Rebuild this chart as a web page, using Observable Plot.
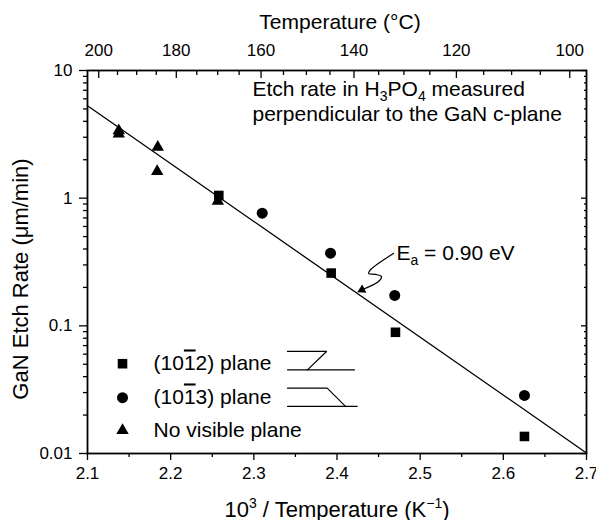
<!DOCTYPE html>
<html><head><meta charset="utf-8">
<script src="https://cdn.jsdelivr.net/npm/d3@7"></script>
<script src="https://cdn.jsdelivr.net/npm/@observablehq/plot@0.6"></script>
<style>body{margin:0;background:#fff} #chart svg{display:block}</style>
</head><body><div id="chart"></div>
<script>
// ---- axis ticks ----
const xTicks = [2.1, 2.2, 2.3, 2.4, 2.5, 2.6, 2.7];
const xMinorTicks = [2.15, 2.25, 2.35, 2.45, 2.55, 2.65];
const yTicks = [0.01, 0.1, 1, 10];
const yMinorTicks = [0.02,0.03,0.04,0.05,0.06,0.07,0.08,0.09,0.2,0.3,0.4,0.5,0.6,0.7,0.8,0.9,2,3,4,5,6,7,8,9];
const tempTicks = [200, 180, 160, 140, 120, 100];
const tempMinorTicks = [195,190,185,175,170,165,155,150,145,135,130,125,115,110,105];

// ---- data (1000/T in K^-1, etch rate in um/min) ----
const squareX = [2.2579, 2.3930, 2.4703, 2.6254];
const squareY = [1.05, 0.259, 0.089, 0.0136];
const circleX = [2.3101, 2.3922, 2.4694, 2.6254];
const circleY = [0.763, 0.371, 0.173, 0.0285];
const triangleX = [2.1376, 2.1376, 2.1845, 2.1838, 2.2567];
const triangleY = [3.38, 3.18, 2.51, 1.62, 0.947];
const fitX = [2.1, 2.7];
const fitY = [5.3, 0.0101];

// legend / annotation anchors (data coordinates)
const legendLabels = ["§SQ§", "§CI§", "No visible plane"];
const legendSymX = 2.1421;
const legendSymY = [0.0505, 0.02735, 0.01517];
const legendTextX = 2.1794;
const diagramX = [2.3405, 2.3874, 2.3645, 2.3405, 2.4210, 2.3405, 2.3882, 2.4102, 2.3405, 2.4243];
const diagramY = [0.0630, 0.0630, 0.0452, 0.0452, 0.0452, 0.0325, 0.0325, 0.0234, 0.0234, 0.0234];
const diagramZ = ["a","a","a","b","b","c","c","c","d","d"];
const squiggleX = [2.4679, 2.4403, 2.4379, 2.4463, 2.4535, 2.4499, 2.4307];
const squiggleY = [0.369, 0.275, 0.2572, 0.2527, 0.2436, 0.2227, 0.1928];

const toInv = t => 1000 / (t + 273.15);
const pts = (xs, ys) => xs.map((x, i) => ({x, y: ys[i]}));

const font = "'Liberation Sans', Arial, Helvetica, sans-serif";

const chart = Plot.plot({
  width: 596, height: 520,
  marginLeft: 87, marginRight: 10, marginTop: 70, marginBottom: 67,
  style: {fontFamily: font, fontSize: "17px", color: "black", background: "white"},
  x: {domain: [2.1, 2.7]},
  y: {type: "log", domain: [0.01, 10]},
  marks: [
    // axes
    Plot.axisX({anchor: "bottom", ticks: xTicks, tickSize: 7, tickPadding: 6, tickFormat: d => d.toFixed(1), label: null, strokeWidth: 1.3}),
    Plot.axisX({anchor: "bottom", ticks: xMinorTicks, tickSize: 4, tickFormat: () => "", label: null, strokeWidth: 1.3}),
    Plot.axisX({anchor: "top", ticks: tempTicks.map(toInv), tickSize: -7, tickFormat: () => "", label: null, strokeWidth: 1.3}),
    Plot.axisX({anchor: "top", ticks: tempMinorTicks.map(toInv), tickSize: -4, tickFormat: () => "", label: null, strokeWidth: 1.3}),
    Plot.axisX({anchor: "top", ticks: tempTicks.map(toInv), tickSize: 0, tickPadding: 15, tickFormat: d => String(Math.round(1000 / d - 273.15)), label: null}),
    Plot.axisY({anchor: "left", ticks: yTicks, tickSize: 8, tickPadding: 7, tickFormat: d => String(d), label: null, strokeWidth: 1.3}),
    Plot.axisY({anchor: "left", ticks: yMinorTicks, tickSize: 4, tickFormat: () => "", label: null, strokeWidth: 1.3}),
    Plot.axisY({anchor: "right", ticks: yTicks, tickSize: -6, tickFormat: () => "", label: null, strokeWidth: 1.3}),
    Plot.axisY({anchor: "right", ticks: yMinorTicks, tickSize: -3, tickFormat: () => "", label: null, strokeWidth: 1.3}),
    Plot.frame({strokeWidth: 1.8}),
    // titles
    Plot.text(["Temperature (°C)"], {frameAnchor: "top", dy: -42, dx: 3, lineAnchor: "bottom", textAnchor: "middle", fontSize: 21}),
    Plot.text(["§XT§"], {frameAnchor: "bottom", dy: 63, lineAnchor: "bottom", textAnchor: "middle", fontSize: 22}),
    Plot.text(["GaN Etch Rate (μm/min)"], {frameAnchor: "left", dx: -60, dy: 17, rotate: -90, lineAnchor: "bottom", textAnchor: "middle", fontSize: 22}),
    // fit line
    Plot.line(pts(fitX, fitY), {x: "x", y: "y", stroke: "black", strokeWidth: 1.3}),
    // data
    Plot.dot(pts(squareX, squareY), {x: "x", y: "y", symbol: "square", r: 5.4, fill: "black"}),
    Plot.dot(pts(circleX, circleY), {x: "x", y: "y", symbol: "circle", r: 5.5, fill: "black"}),
    Plot.dot(pts(triangleX, triangleY), {x: "x", y: "y", symbol: "triangle", r: 4.6, fill: "black"}),
    // annotation text
    Plot.text(["§ET§"], {x: [2.2984], y: [10 ** (1 - (96 - 70) / 127.7)], text: d => d, textAnchor: "start", lineAnchor: "bottom", fontSize: 21}),
    Plot.text(["perpendicular to the GaN c-plane"], {x: [2.2984], y: [10 ** (1 - (121 - 70) / 127.7)], text: d => d, textAnchor: "start", lineAnchor: "bottom", fontSize: 21}),
    Plot.text(["§EA§"], {x: [2.4715], y: [0.328], text: d => d, textAnchor: "start", lineAnchor: "bottom", fontSize: 21}),
    Plot.line(pts(squiggleX, squiggleY), {x: "x", y: "y", curve: "catmull-rom", stroke: "black", strokeWidth: 1.2}),
    Plot.dot([{x: 2.4300, y: 0.1915}], {x: "x", y: "y", symbol: "triangle", r: 3.4, fill: "black", rotate: 243}),
    // legend
    Plot.dot([{x: legendSymX, y: legendSymY[0]}], {x: "x", y: "y", symbol: "square", r: 5.4, fill: "black"}),
    Plot.dot([{x: legendSymX, y: legendSymY[1]}], {x: "x", y: "y", symbol: "circle", r: 5.5, fill: "black"}),
    Plot.dot([{x: legendSymX, y: legendSymY[2]}], {x: "x", y: "y", symbol: "triangle", r: 4.6, fill: "black"}),
    Plot.text(legendLabels.map((t, i) => ({t, x: legendTextX, y: legendSymY[i]})), {x: "x", y: "y", text: "t", textAnchor: "start", lineAnchor: "middle", fontSize: 21}),
    Plot.line(diagramX.map((x, i) => ({x, y: diagramY[i], z: diagramZ[i]})), {x: "x", y: "y", z: "z", stroke: "black", strokeWidth: 1.2})
  ]
});

// rich text (sub/superscripts, overlines)
function setRich(el, parts) {
  el.textContent = "";
  let shift = 0;
  for (const [t, kind] of parts) {
    const ts = document.createElementNS("http://www.w3.org/2000/svg", "tspan");
    ts.textContent = t;
    let target = 0;
    if (kind === "sub") { ts.setAttribute("font-size", "14"); target = 5; }
    else if (kind === "sup") { ts.setAttribute("font-size", "14"); target = -9; }
    else if (kind === "over") { ts.setAttribute("text-decoration", "overline"); ts.style.textDecoration = "overline"; }
    if (target !== shift) { ts.setAttribute("dy", String(target - shift)); shift = target; }
    el.appendChild(ts);
  }
}
const rich = {
  "§XT§": [["10", null], ["3", "sup"], [" / Temperature (K", null], ["−1", "sup"], [")", null]],
  "§ET§": [["Etch rate in H", null], ["3", "sub"], ["PO", null], ["4", "sub"], [" measured", null]],
  "§EA§": [["E", null], ["a", "sub"], [" = 0.90 eV", null]],
  "§SQ§": [["(10", null], ["1", "over"], ["2) plane", null]],
  "§CI§": [["(10", null], ["1", "over"], ["3) plane", null]]
};
chart.querySelectorAll("text").forEach(el => {
  const k = el.textContent;
  if (rich[k]) setRich(el, rich[k]);
});
document.getElementById("chart").appendChild(chart);
</script>
</body></html>
